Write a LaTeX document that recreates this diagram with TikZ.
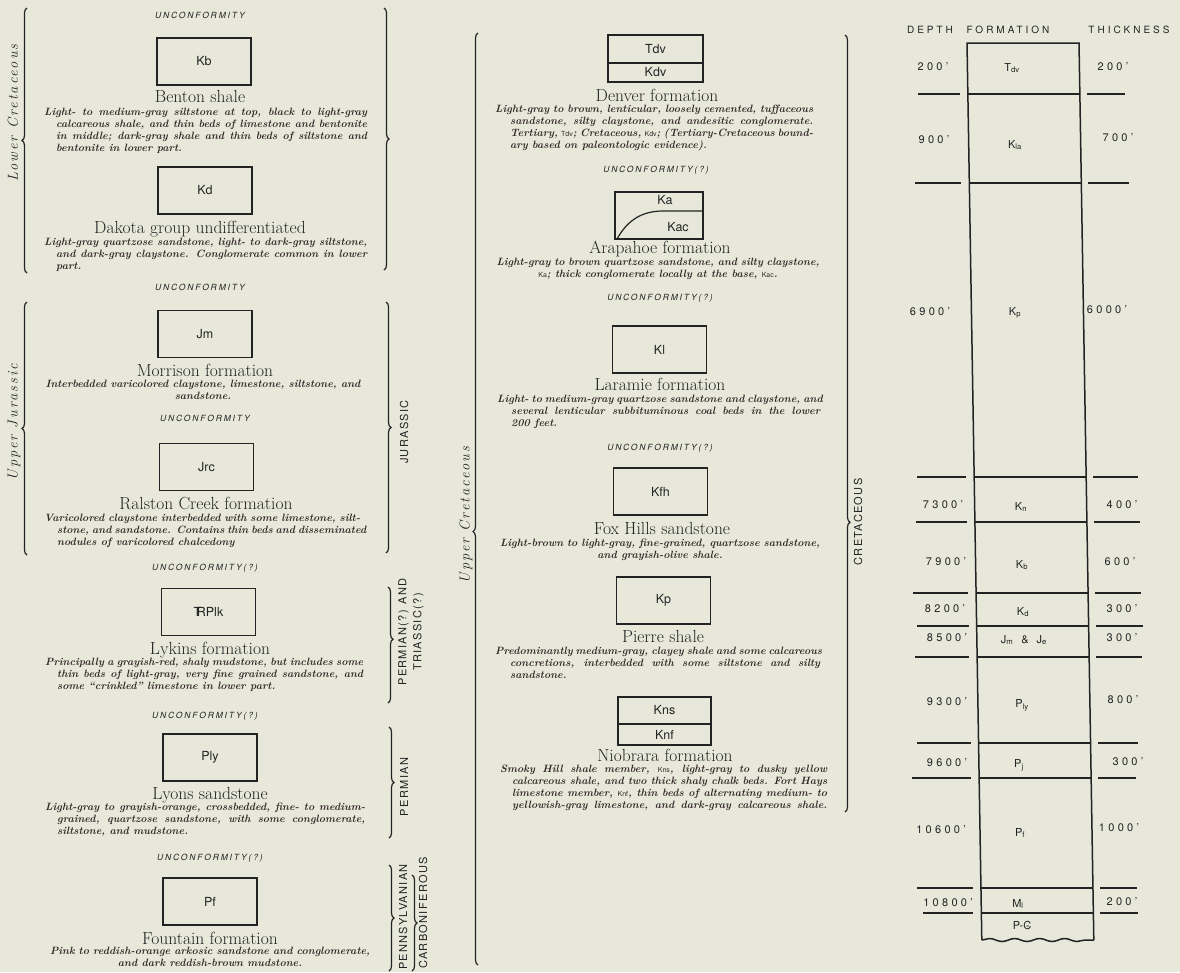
\documentclass[tikz,border=0pt]{standalone}
\usepackage{fontspec}
\setmainfont{Latin Modern Roman}
\setsansfont{TeX Gyre Heros}
\usepackage{tikz}
\usetikzlibrary{positioning,decorations.pathreplacing,decorations.pathmorphing}
\definecolor{paper}{HTML}{E7E8DA}
\definecolor{ink}{HTML}{232323}
\definecolor{inkd}{HTML}{342828}
\newcommand\jl[2]{\makebox[#1pt][s]{#2}}
\newcommand\sym[1]{{\sffamily\mdseries\upshape\fontsize{7}{8}\selectfont #1}}
\newcommand\trsym{T\kern-.36em R}
\newcommand\cambr{{\ooalign{\hfil C\hfil\cr\hfil\kern.08em-\hfil\cr}}}

\begin{document}
\begin{tikzpicture}[x=1pt,y=-1pt,
  unitbox/.style={draw=ink,line width=1.5pt,minimum width=94pt,minimum height=47pt,inner sep=0pt,outer sep=0pt,
    text=ink,font=\sffamily\fontsize{12.5}{13}\selectfont},
  unitlbl/.style={text=ink,inner sep=0pt,font=\sffamily\fontsize{12.5}{13}\selectfont},
  ttl/.style={text=ink,inner sep=0pt,text height=12pt,text depth=3.5pt,font=\fontsize{17.5}{19}\selectfont},
  dsc/.style={anchor=north west,align=left,inner sep=0pt,text=inkd,font=\fontsize{10.6}{12}\selectfont\bfseries\itshape},
  dscc/.style={dsc,anchor=north,align=center},
  unc/.style={text=ink,inner sep=0pt,font=\sffamily\itshape\fontsize{8.5}{10}\selectfont\addfontfeatures{LetterSpace=22}},
  age/.style={rotate=90,text=ink,inner sep=0pt,font=\itshape\fontsize{14.5}{15}\selectfont\addfontfeatures{LetterSpace=14}},
  era/.style={rotate=90,text=ink,inner sep=0pt,align=center,font=\sffamily\fontsize{11}{15}\selectfont\addfontfeatures{LetterSpace=12}},
  brc/.style={draw=ink,line width=1.2pt,decorate,decoration={brace,amplitude=5pt}},
  hdr/.style={text=ink,inner sep=0pt,font=\sffamily\fontsize{10}{12}\selectfont\addfontfeatures{LetterSpace=30}},
  num/.style={text=ink,inner sep=0pt,font=\sffamily\fontsize{11}{12}\selectfont\addfontfeatures{LetterSpace=30}},
  fm/.style={text=ink,inner sep=0pt,font=\sffamily\fontsize{11}{12}\selectfont},
  col/.style={draw=ink,line width=1.5pt},
  tickln/.style={draw=ink,line width=1.4pt}]
\path[use as bounding box,fill=paper] (0,0) rectangle (1180,972);

% left column: Lower Cretaceous
\draw[brc] (27,273) -- (27,8);
\node[age] (lowcret) at (13,113) {Lower Cretaceous};
\draw[brc] (384,8) -- (384,270);
\node[unc] (unc1) at (200,15) {UNCONFORMITY};
\node[unitbox] (kb) at (204,61.5) {Kb};
\node[ttl] (benton) at (200,98) {Benton shale};
\node[dsc] (bentond) at (44,108) {\jl{323}{Light- to medium-gray siltstone at top, black to light-gray}\\
  \hspace*{12pt}\jl{311}{calcareous shale, and thin beds of limestone and bentonite}\\
  \hspace*{12pt}\jl{311}{in middle; dark-gray shale and thin beds of siltstone and}\\
  \hspace*{12pt}bentonite in lower part.};
\node[unitbox] (kd) at (205,190.5) {Kd};
\node[ttl] (dakota) at (200,229) {Dakota group undifferentiated};
\node[dsc] (dakotad) at (44,238) {\jl{323}{Light-gray quartzose sandstone, light- to dark-gray siltstone,}\\
  \hspace*{12pt}\jl{311}{and dark-gray claystone. Conglomerate common in lower}\\
  \hspace*{12pt}part.};
\node[unc] (unc2) at (200,287) {UNCONFORMITY};

% left column: Jurassic
\draw[brc] (27,555) -- (27,302);
\node[age] (upjur) at (14,422) {Upper Jurassic};
\draw[brc] (386,302) -- (386,553);
\node[era] (jur) at (404,432) {JURASSIC};
\node[unitbox] (jm) at (205,334) {Jm};
\node[ttl] (morrison) at (205,372) {Morrison formation};
\node[dscc] (morrisond) at (203,380) {\jl{315}{Interbedded varicolored claystone, limestone, siltstone, and}\\
  sandstone.};
\node[unc] (unc3) at (205,418) {UNCONFORMITY};
\node[unitbox] (jrc) at (206.5,467) {Jrc};
\node[ttl] (ralston) at (206,505) {Ralston Creek formation};
\node[dsc] (ralstond) at (44,514) {\jl{316}{Varicolored claystone interbedded with some limestone, silt-}\\
  \hspace*{13pt}\jl{303}{stone, and sandstone. Contains thin beds and disseminated}\\
  \hspace*{13pt}nodules of varicolored chalcedony};
\node[unc] (unc4) at (205,568) {UNCONFORMITY(?)};

% left column: Permian and older
\draw[brc,decoration={aspect=0.45}] (388,587) -- (388,703);
\node[era] (permtri) at (411,632) {PERMIAN(?) AND\\TRIASSIC(?)};
\node[unitbox] (trplk) at (208.5,612) {\trsym Plk};
\node[ttl] (lykins) at (210,650) {Lykins formation};
\node[dsc] (lykinsd) at (45,658) {\jl{318}{Principally a grayish-red, shaly mudstone, but includes some}\\
  \hspace*{12pt}\jl{306}{thin beds of light-gray, very fine grained sandstone, and}\\
  \hspace*{12pt}some ``crinkled'' limestone in lower part.};
\node[unc] (unc5) at (205,716) {UNCONFORMITY(?)};
\draw[brc] (389,727) -- (389,838);
\node[era] (perm) at (404,787) {PERMIAN};
\node[unitbox] (ply) at (210,757.5) {Ply};
\node[ttl] (lyons) at (210,795) {Lyons sandstone};
\node[dsc] (lyonsd) at (45,803) {\jl{320}{Light-gray to grayish-orange, crossbedded, fine- to medium-}\\
  \hspace*{12pt}\jl{308}{grained, quartzose sandstone, with some conglomerate,}\\
  \hspace*{12pt}siltstone, and mudstone.};
\node[unc] (unc6) at (210,858) {UNCONFORMITY(?)};
\draw[brc] (389,865) -- (389,971);
\node[era] (penn) at (403,917) {PENNSYLVANIAN};
\draw[brc] (412,875) -- (412,971);
\node[era] (carb) at (423,913) {CARBONIFEROUS};
\node[unitbox] (pf) at (210,901.5) {Pf};
\node[ttl] (fountain) at (210,940) {Fountain formation};
\node[dscc] (fountaind) at (210,947) {\jl{320}{Pink to reddish-orange arkosic sandstone and conglomerate,}\\
  and dark reddish-brown mudstone.};

% middle column: Upper Cretaceous
\draw[brc,decoration={aspect=0.465}] (478,965) -- (478,33);
\node[age] (upcret) at (466,515) {Upper Cretaceous};
\draw[brc,decoration={aspect=0.627}] (845,35) -- (845,812);
\node[era] (cret) at (858,522) {CRETACEOUS};
\node[unitbox,minimum width=95pt,minimum height=28pt] (tdv) at (655.5,49) {Tdv};
\node[unitbox,minimum width=95pt,minimum height=19pt,below=0pt of tdv] (kdv) {Kdv};
\node[ttl] (denver) at (657,97) {Denver formation};
\node[dsc] (denverd) at (495,105) {\jl{318}{Light-gray to brown, lenticular, loosely cemented, tuffaceous}\\
  \hspace*{15pt}\jl{303}{sandstone, silty claystone, and andesitic conglomerate.}\\
  \hspace*{15pt}\jl{303}{Tertiary, \sym{Tdv}; Cretaceous, \sym{Kdv}; (Tertiary-Cretaceous bound-}\\
  \hspace*{15pt}ary based on paleontologic evidence).};
\node[unc] (unc7) at (656,170) {UNCONFORMITY(?)};
\node[unitbox,minimum width=88pt] (ka) at (659,215.5) {};
\draw[col,line width=1.2pt] (ka.south west) ++(2,0) .. controls +(10,-18) and +(-22,0) .. (663,211) -- (ka.east |- 663,211);
\node[unitlbl] (kalbl) at (665,200) {Ka};
\node[unitlbl] (kaclbl) at (678,227) {Kac};
\node[ttl] (arapahoe) at (660,249) {Arapahoe formation};
\node[dscc] (arapahoed) at (658,258) {\jl{323}{Light-gray to brown quartzose sandstone, and silty claystone,}\\
  \sym{Ka}; thick conglomerate locally at the base, \sym{Kac}.};
\node[unc] (unc8) at (660,298) {UNCONFORMITY(?)};
\node[unitbox] (kl) at (659.5,349.5) {Kl};
\node[ttl] (laramie) at (660,386) {Laramie formation};
\node[dsc] (laramied) at (497,395) {\jl{323}{Light- to medium-gray quartzose sandstone and claystone, and}\\
  \hspace*{14pt}\jl{309}{several lenticular subbituminous coal beds in the lower}\\
  \hspace*{14pt}200 feet.};
\node[unc] (unc9) at (660,448) {UNCONFORMITY(?)};
\node[unitbox] (kfh) at (660.5,491.5) {Kfh};
\node[ttl] (foxhills) at (662,530) {Fox Hills sandstone};
\node[dscc] (foxhillsd) at (660,539) {\jl{320}{Light-brown to light-gray, fine-grained, quartzose sandstone,}\\
  and grayish-olive shale.};
\node[unitbox] (kp) at (663.5,600.5) {Kp};
\node[ttl] (pierre) at (663,638) {Pierre shale};
\node[dsc] (pierred) at (495,647) {\jl{325}{Predominantly medium-gray, clayey shale and some calcareous}\\
  \hspace*{15pt}\jl{310}{concretions, interbedded with some siltstone and silty}\\
  \hspace*{15pt}sandstone.};
\node[unitbox,minimum width=93pt,minimum height=27pt] (kns) at (664.5,710.5) {Kns};
\node[unitbox,minimum width=93pt,minimum height=21pt,below=0pt of kns] (knf) {Knf};
\node[ttl] (niobrara) at (665,757) {Niobrara formation};
\node[dsc] (niobrarad) at (500,765) {\jl{327}{Smoky Hill shale member, \sym{Kns}, light-gray to dusky yellow}\\
  \hspace*{12pt}\jl{315}{calcareous shale, and two thick shaly chalk beds. Fort Hays}\\
  \hspace*{12pt}\jl{315}{limestone member, \sym{Knf}, thin beds of alternating medium- to}\\
  \hspace*{12pt}\jl{315}{yellowish-gray limestone, and dark-gray calcareous shale.}};

% right column: well section
\node[hdr] (hdepth) at (930,30) {DEPTH};
\node[hdr] (hform) at (1008,30) {FORMATION};
\node[hdr] (hthick) at (1129,30) {THICKNESS};
\begin{scope}[xslant=-0.0165]
  \draw[col] (966.3,940) -- (966.3,43) -- (1078.3,43) -- (1078.3,940);
  \draw[col,decorate,decoration={snake,amplitude=1.5pt,segment length=25pt}] (966.3,940) -- (1078.3,940);
  \draw[col,line width=1.2pt] (966.3,94) -- (1078.3,94) (966.3,183) -- (1078.3,183)
    (966.3,477) -- (1078.3,477) (966.3,522) -- (1078.3,522) (966.3,593) -- (1078.3,593)
    (966.3,626) -- (1078.3,626) (966.3,657) -- (1078.3,657) (966.3,743) -- (1078.3,743)
    (966.3,778) -- (1078.3,778) (966.3,888) -- (1078.3,888) (966.3,913) -- (1078.3,913);
\end{scope}
\draw[tickln] (918,94) -- (960,94) (1087,94) -- (1125,94);
\draw[tickln] (915,183) -- (961,183) (1088,183) -- (1129,183);
\draw[tickln] (917,477) -- (966,477) (1093,477) -- (1138,477);
\draw[tickln] (916,522) -- (967,522) (1094,522) -- (1140,522);
\draw[tickln] (913,593) -- (968,593) (1095,593) -- (1141,593);
\draw[tickln] (917,626) -- (969,626) (1096,626) -- (1143,626);
\draw[tickln] (915,657) -- (969,657) (1096,657) -- (1142,657);
\draw[tickln] (917,743) -- (971,743) (1098,743) -- (1138,743);
\draw[tickln] (912,778) -- (971,778) (1098,778) -- (1136,778);
\draw[tickln] (917,888) -- (973,888) (1100,888) -- (1137,888);
\draw[tickln] (923,913) -- (973,913) (1100,913) -- (1138,913);
% depths
\node[num] (d1) at (933,67) {200'};
\node[num] (d2) at (934,140) {900'};
\node[num] (d3) at (930,312) {6900'};
\node[num] (d4) at (943,505) {7300'};
\node[num] (d5) at (946,562) {7900'};
\node[num] (d6) at (945,609) {8200'};
\node[num] (d7) at (947,638) {8500'};
\node[num] (d8) at (947,702) {9300'};
\node[num] (d9) at (947,763) {9600'};
\node[num] (d10) at (941,830) {10600'};
\node[num] (d11) at (948,903) {10800'};
% formations
\node[fm] (c1) at (1012,68) {T\textsubscript{dv}};
\node[fm] (c2) at (1015,145) {K\textsubscript{la}};
\node[fm] (c3) at (1015,313) {K\textsubscript{p}};
\node[fm] (c4) at (1021,507) {K\textsubscript{n}};
\node[fm] (c5) at (1022,565) {K\textsubscript{b}};
\node[fm] (c6) at (1023,612) {K\textsubscript{d}};
\node[fm] (c7) at (1024,640) {J\textsubscript{m}\hspace{8pt}\&\hspace{8pt}J\textsubscript{e}};
\node[fm] (c8) at (1022,705) {P\textsubscript{ly}};
\node[fm] (c9) at (1019,765) {P\textsubscript{j}};
\node[fm] (c10) at (1020,833) {P\textsubscript{f}};
\node[fm] (c11) at (1018,904) {M\textsubscript{l}};
\node[fm] (c12) at (1022,925) {P-\cambr};
% thicknesses
\node[num] (t1) at (1113,67) {200'};
\node[num] (t2) at (1118,138) {700'};
\node[num] (t3) at (1107,310) {6000'};
\node[num] (t4) at (1122,505) {400'};
\node[num] (t5) at (1120,562) {600'};
\node[num] (t6) at (1122,609) {300'};
\node[num] (t7) at (1122,638) {300'};
\node[num] (t8) at (1123,700) {800'};
\node[num] (t9) at (1128,762) {300'};
\node[num] (t10) at (1119,828) {1000'};
\node[num] (t11) at (1122,902) {200'};
\end{tikzpicture}
\end{document}
